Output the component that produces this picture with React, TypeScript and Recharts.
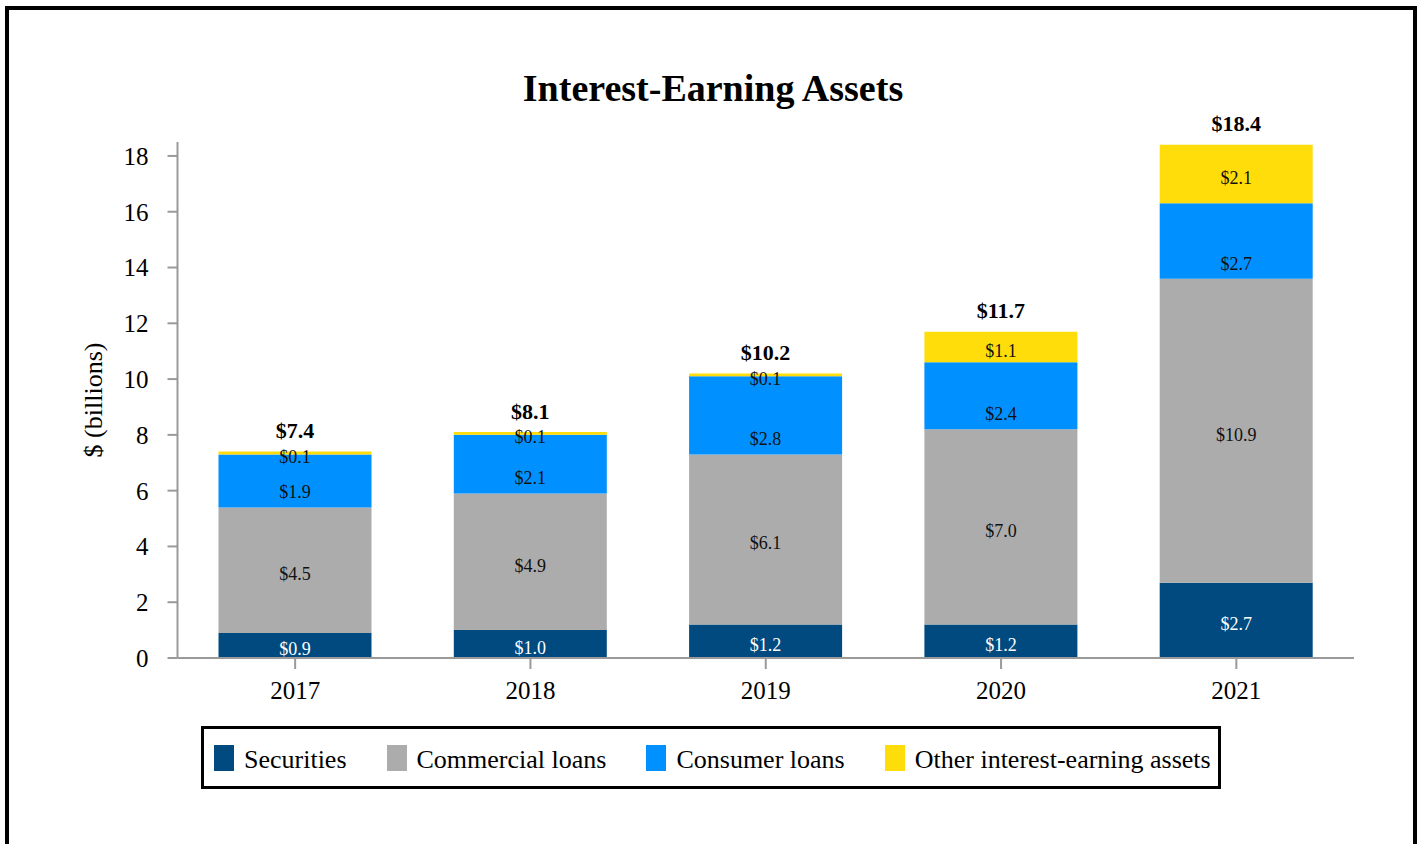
import { Bar, BarChart, LabelList, XAxis, YAxis } from 'recharts'

const years = ['2017', '2018', '2019', '2020', '2021']
const securities = [0.9, 1.0, 1.2, 1.2, 2.7]
const commercial = [4.5, 4.9, 6.1, 7.0, 10.9]
const consumer = [1.9, 2.1, 2.8, 2.4, 2.7]
const other = [0.1, 0.1, 0.1, 1.1, 2.1]
const totals = [7.4, 8.1, 10.2, 11.7, 18.4]
const yTicks = [0, 2, 4, 6, 8, 10, 12, 14, 16, 18]

const serif = '"Liberation Serif", "Times New Roman", serif'
const axisGrey = '#9a9a9a'

type SeriesInfo = { key: string; name: string; color: string; values: number[]; labelColor: string; nearBottom: boolean }

const seriesInfos: SeriesInfo[] = [
  { key: 'securities', name: 'Securities', color: '#004a7f', values: securities, labelColor: '#ffffff', nearBottom: false },
  { key: 'commercial', name: 'Commercial loans', color: '#acacac', values: commercial, labelColor: '#111111', nearBottom: false },
  { key: 'consumer', name: 'Consumer loans', color: '#0090ff', values: consumer, labelColor: '#111111', nearBottom: true },
  { key: 'other', name: 'Other interest-earning assets', color: '#ffdd0b', values: other, labelColor: '#111111', nearBottom: false },
]

const data = years.map((year, i) => ({
  year,
  securities: securities[i],
  commercial: commercial[i],
  consumer: consumer[i],
  other: other[i],
}))

const fmt = (v: number) => `$${v.toFixed(1)}`

// consumer labels sit near the bottom of their segment, the rest roughly centred
const segmentLabel = (info: SeriesInfo) => (props: any) => {
  const { x, y, width, height, index } = props
  const v = info.values[index]
  const cx = Number(x) + Number(width) / 2
  const cy = info.nearBottom ? Number(y) + Number(height) - 15 : Number(y) + Number(height) / 2 + 4
  return (
    <text x={cx} y={cy} textAnchor="middle" dominantBaseline="central" fill={info.labelColor} fontSize={18} fontFamily={serif}>
      {fmt(v)}
    </text>
  )
}

const totalLabel = (props: any) => {
  const { x, y, width, index } = props
  return (
    <text
      x={Number(x) + Number(width) / 2}
      y={Number(y) - 21}
      textAnchor="middle"
      dominantBaseline="central"
      fill="#000"
      fontSize={22}
      fontWeight="bold"
      fontFamily={serif}
    >
      {fmt(totals[index])}
    </text>
  )
}

export default function App() {
  return (
    <div style={{ position: 'fixed', left: 0, top: 0, width: 1420, height: 844, overflow: 'hidden', background: '#fff' }}>
      <div
        style={{
          position: 'absolute',
          left: 5,
          top: 6,
          width: 1412,
          height: 900,
          boxSizing: 'border-box',
          border: '4px solid #000',
        }}
      />
      <svg width={1420} height={844} style={{ position: 'absolute', left: 0, top: 0 }}>
        <text x={713} y={101} textAnchor="middle" fontSize={38} fontWeight="bold" fontFamily={serif} fill="#000">
          Interest-Earning Assets
        </text>
        <text
          x={102}
          y={400}
          textAnchor="middle"
          fontSize={26}
          fontFamily={serif}
          fill="#000"
          transform="rotate(-90 102 400)"
        >
          $ (billions)
        </text>
      </svg>
      <div style={{ position: 'absolute', left: 0, top: 0 }}>
        <BarChart width={1420} height={844} data={data} margin={{ top: 142, right: 66, bottom: 146, left: 1.5 }}>
          <XAxis
            dataKey="year"
            height={40}
            stroke={axisGrey}
            strokeWidth={2}
            tickSize={11}
            tickMargin={12}
            tick={{ fill: '#000', fontSize: 25, fontFamily: serif }}
          />
          <YAxis
            width={176}
            domain={[0, 18.5]}
            ticks={yTicks}
            allowDataOverflow
            stroke={axisGrey}
            strokeWidth={2}
            tickSize={10}
            tickMargin={19}
            tick={{ fill: '#000', fontSize: 25, fontFamily: serif }}
          />
          {seriesInfos.map((info) => (
            <Bar key={info.key} dataKey={info.key} stackId="a" fill={info.color} barSize={153} isAnimationActive={false}>
              <LabelList dataKey={info.key} content={segmentLabel(info)} />
              {info.key === 'other' && <LabelList dataKey={info.key} content={totalLabel} />}
            </Bar>
          ))}
        </BarChart>
      </div>
      <div
        style={{
          position: 'absolute',
          left: 201,
          top: 726,
          width: 1020,
          height: 63,
          boxSizing: 'border-box',
          border: '3px solid #000',
          display: 'flex',
          alignItems: 'center',
          paddingLeft: 10,
          paddingTop: 5,
          fontFamily: serif,
          fontSize: 26,
          color: '#000',
          whiteSpace: 'nowrap',
        }}
      >
        {seriesInfos.map((info, i) => (
          <div key={info.key} style={{ display: 'flex', alignItems: 'center', marginRight: i < seriesInfos.length - 1 ? 40 : 0 }}>
            <span style={{ display: 'inline-block', width: 20, height: 26, background: info.color, marginRight: 10, marginTop: -4 }} />
            <span>{info.name}</span>
          </div>
        ))}
      </div>
    </div>
  )
}
